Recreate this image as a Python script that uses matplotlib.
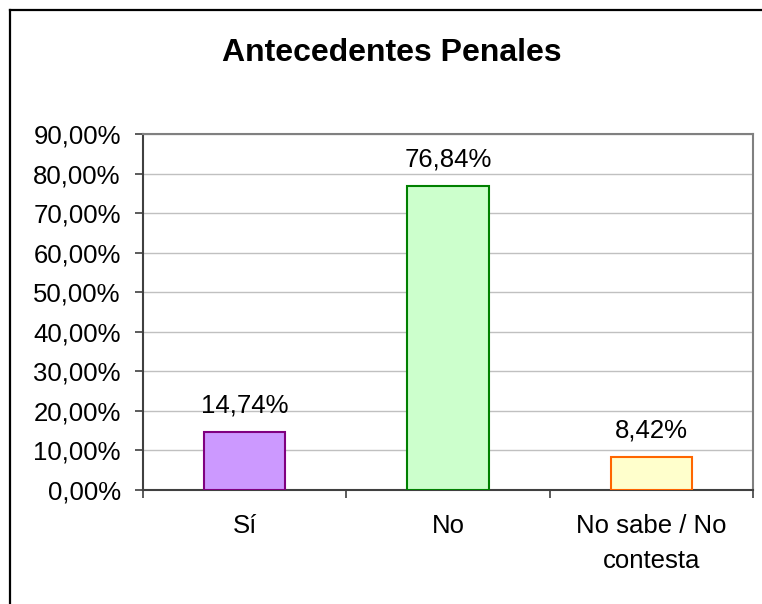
import matplotlib
matplotlib.use("Agg")
import matplotlib.pyplot as plt
from matplotlib.lines import Line2D
from matplotlib.ticker import FixedLocator, FuncFormatter

categories = ["Sí", "No", "No sabe / No\ncontesta"]
values = [14.74, 76.84, 8.42]
fills = ["#CC99FF", "#CCFFCC", "#FFFFCC"]
edges = ["#800080", "#008000", "#FF6600"]

plt.rcParams["font.family"] = ["Liberation Sans", "DejaVu Sans"]

fig = plt.figure(figsize=(7.62, 6.04), dpi=100)
ax = fig.add_axes([143 / 762, 1 - 490 / 604, (753 - 143) / 762, (490 - 134) / 604])

x = list(range(len(categories)))
ax.bar(x, values, width=0.4, color=fills, edgecolor=edges, linewidth=1.5, zorder=3)

for xi, v in zip(x, values):
    label = f"{v:.2f}%".replace(".", ",")
    ax.annotate(label, (xi, v), xytext=(0, 14), textcoords="offset points",
                ha="center", va="baseline", fontsize=18.5)

ax.set_xlim(-0.5, 2.5)
ax.set_ylim(0, 90)
ax.set_yticks(range(0, 91, 10))
ax.yaxis.set_major_formatter(FuncFormatter(lambda v, p: f"{v:.2f}%".replace(".", ",")))
ax.tick_params(axis="y", labelsize=18.5, direction="out", length=6, width=1.2, color="#404040", pad=10)

ax.set_xticks(x)
ax.set_xticklabels(categories, fontsize=18.5, linespacing=1.6)
ax.tick_params(axis="x", length=0, pad=17)
ax.xaxis.set_minor_locator(FixedLocator([-0.5, 0.5, 1.5, 2.5]))
ax.tick_params(axis="x", which="minor", direction="out", length=6, width=1.2, color="#404040")

ax.grid(axis="y", color="#C0C0C0", linewidth=1, zorder=0)
ax.set_axisbelow(True)
for s in ["top", "right"]:
    ax.spines[s].set_color("#808080")
    ax.spines[s].set_linewidth(1.5)
for s in ["left", "bottom"]:
    ax.spines[s].set_color("#404040")
    ax.spines[s].set_linewidth(1.5)

fig.text(392 / 762, 1 - 53 / 604, "Antecedentes Penales", ha="center", va="center",
         fontsize=23, fontweight="bold")

# outer chart frame (left and top edges visible)
fig.add_artist(Line2D([9.5 / 762, 9.5 / 762], [0, 1 - 10 / 604], color="black",
                      linewidth=1.6, transform=fig.transFigure))
fig.add_artist(Line2D([9.5 / 762, 1], [1 - 10 / 604, 1 - 10 / 604], color="black",
                      linewidth=1.6, transform=fig.transFigure))

fig.savefig("out.png", dpi=100)
